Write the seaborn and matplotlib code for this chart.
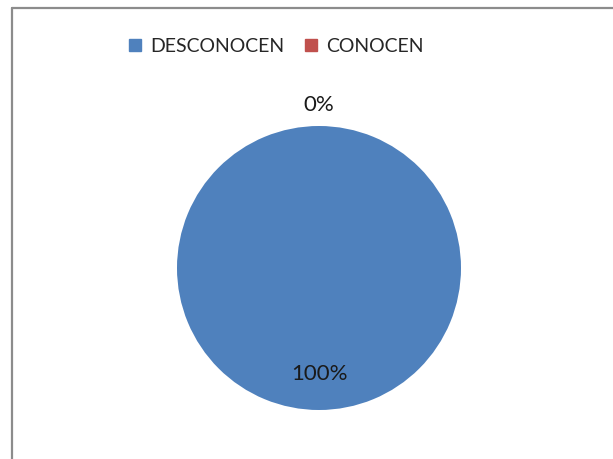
import matplotlib
matplotlib.use("Agg")
import matplotlib.pyplot as plt
import seaborn as sns
import numpy as np
from matplotlib.lines import Line2D

categories = ["DESCONOCEN", "CONOCEN"]
values = [100, 0]
pct_labels = ["100%", "0%"]
colors = ["#4F81BD", "#C0504D"]

sns.set_theme(style="white")
plt.rcParams['font.family'] = ['Lato', 'DejaVu Sans']

W, H = 613, 459
fig = plt.figure(figsize=(W / 100, H / 100), dpi=100)
fig.patch.set_facecolor("white")

cx, cy, r = 319, 268, 142
ax = fig.add_axes([(cx - r) / W, (H - cy - r) / H, 2 * r / W, 2 * r / H])
wedges, texts = ax.pie(values, colors=colors, startangle=90, counterclock=False,
                       radius=1.0, labels=None, wedgeprops=dict(linewidth=0))
ax.set_xlim(-1, 1)
ax.set_ylim(-1, 1)
ax.set_aspect("equal")
ax.axis("off")

for w, v, lab in zip(wedges, values, pct_labels):
    theta = (w.theta1 + w.theta2) / 2.0
    dist = 0.75 if v > 0 else 1.15
    x = dist * np.cos(np.radians(theta))
    y = dist * np.sin(np.radians(theta))
    ax.text(x, y, lab, ha="center", va="center", fontsize=16, color="#1a1a1a",
            clip_on=False)

handles = [Line2D([0], [0], marker="s", linestyle="none", markersize=8.6,
                  markerfacecolor=c, markeredgecolor=c) for c in colors]
fig.legend(handles, categories, loc="center", bbox_to_anchor=(276 / W, 1 - 46 / H),
           ncol=2, frameon=False, fontsize=14, handletextpad=0.45,
           columnspacing=1.0, handlelength=0.7)

bc = "#8c8c8c"
fig.add_artist(Line2D([11.5 / W, 1.0], [1 - 7.5 / H, 1 - 7.5 / H], color=bc, lw=1.6,
                      transform=fig.transFigure))
fig.add_artist(Line2D([11.5 / W, 11.5 / W], [0.0, 1 - 7.5 / H], color=bc, lw=1.6,
                      transform=fig.transFigure))

fig.savefig("out.png", dpi=100)
